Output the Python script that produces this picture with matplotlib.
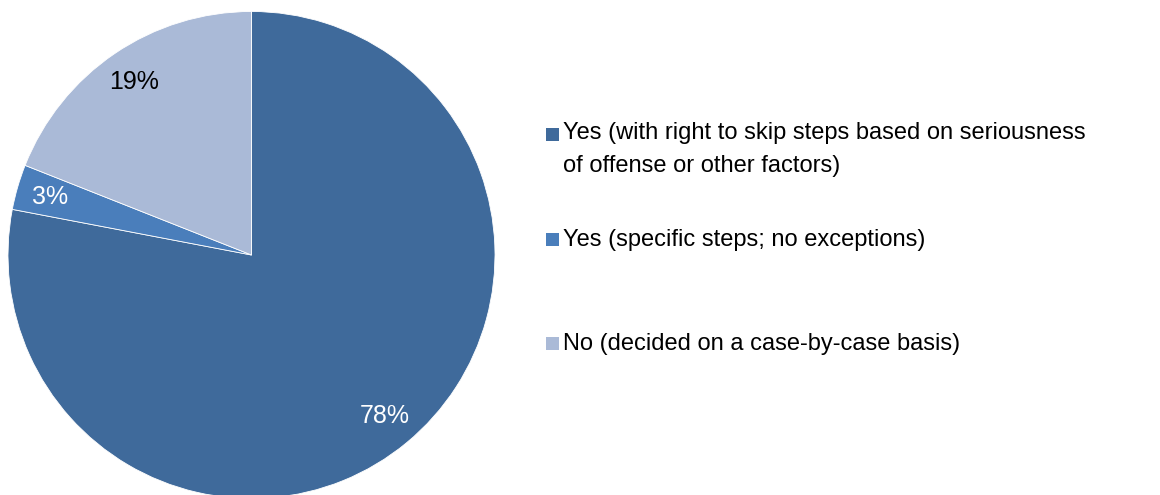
import matplotlib.pyplot as plt
from matplotlib.patches import Rectangle

plt.rcParams['font.family'] = ['Liberation Sans', 'DejaVu Sans']

labels = [
    "Yes (with right to skip steps based on seriousness\nof offense or other factors)",
    "Yes (specific steps; no exceptions)",
    "No (decided on a case-by-case basis)",
]
shares = [78, 3, 19]
colors = ["#3F6A9B", "#4A7EBB", "#AABAD7"]
pct_colors = ["white", "white", "black"]

W, H = 1160, 495
fig = plt.figure(figsize=(W / 100, H / 100), dpi=100)

# pie axes: centre at (251.5, 255) px, radius 243.5 px
R = 243.5
cx, cy = 251.5, 255
ax = fig.add_axes([(cx - R) / W, (H - cy - R) / H, 2 * R / W, 2 * R / H])
wedges, _, autotexts = ax.pie(
    shares, colors=colors, startangle=90, counterclock=False,
    autopct="%d%%", pctdistance=0.86,
    wedgeprops=dict(edgecolor="white", linewidth=0.6),
    textprops=dict(fontsize=18),
)
for t, c in zip(autotexts, pct_colors):
    t.set_color(c)
ax.set_xlim(-1, 1)
ax.set_ylim(-1, 1)
ax.set_aspect("equal")

# legend drawn by hand so the uneven spacing can be kept
# square bottoms sit on the first line's baseline, text is anchored on the last line
sq = 13
first_base = [141, 246, 350]
last_base = [172, 246, 350]
for lab, col, b0, b1 in zip(labels, colors, first_base, last_base):
    fig.patches.append(Rectangle((546 / W, (H - b0) / H), sq / W, sq / H,
                                 transform=fig.transFigure, facecolor=col,
                                 edgecolor="none"))
    fig.text(563 / W, (H - b1) / H, lab, fontsize=17, va="baseline",
             ha="left", linespacing=1.62, color="black")

fig.savefig("out.png", dpi=100)
